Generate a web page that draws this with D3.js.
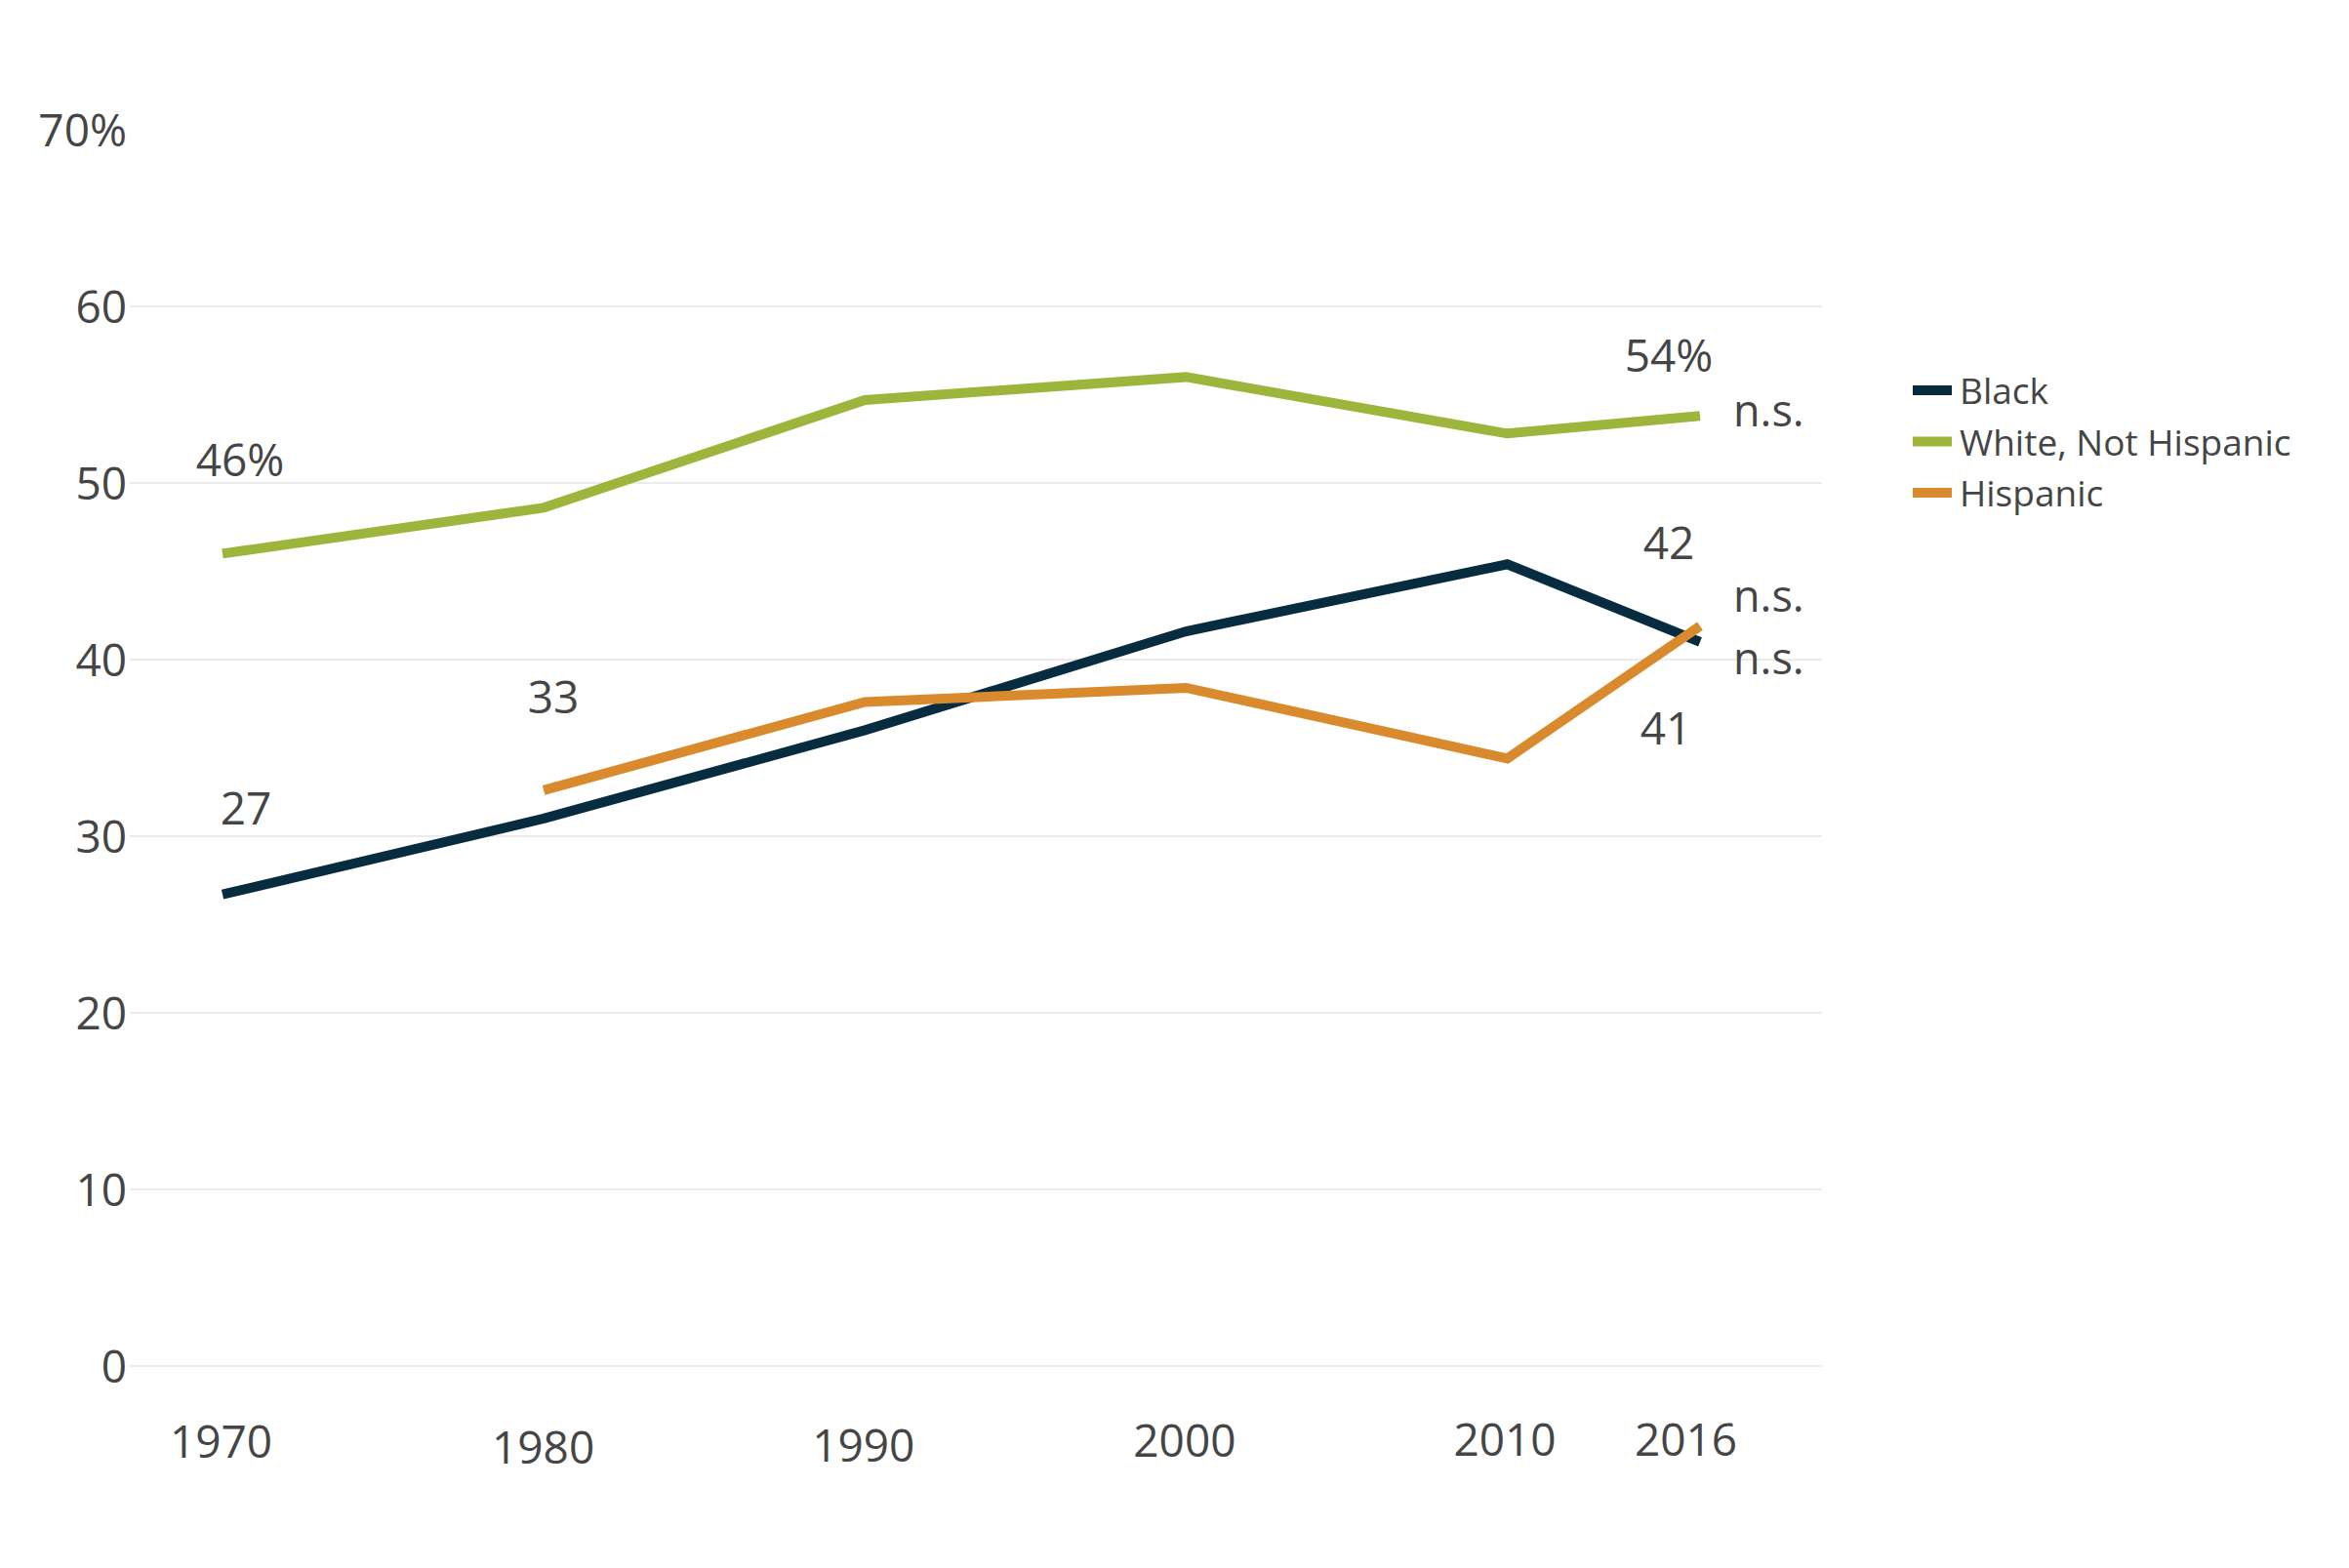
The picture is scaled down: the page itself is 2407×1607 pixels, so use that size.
<!DOCTYPE html>
<html>
<head>
<meta charset="utf-8">
<script src="https://cdn.jsdelivr.net/npm/d3@7/dist/d3.min.js"></script>
<style>
  html, body { margin: 0; padding: 0; background: #ffffff; }
  svg { display: block; font-family: "Open Sans", "Noto Sans", sans-serif; }
</style>
</head>
<body>
<svg id="chart" width="2407" height="1607"></svg>
<script>
// ---- data ----
const years = [1970, 1980, 1990, 2000, 2010, 2016];
const seriesNames = ["Black", "White, Not Hispanic", "Hispanic"];
const blackValues = [26.7, 31.0, 36.0, 41.6, 45.4, 41.0];
const whiteValues = [46.0, 48.6, 54.7, 56.0, 52.8, 53.8];
const hispanicValues = [null, 32.6, 37.6, 38.4, 34.4, 41.9];
const yTicks = [0, 10, 20, 30, 40, 50, 60, 70];
const gridTicks = [0, 10, 20, 30, 40, 50, 60];
// annotation text: [series index, year, text]
const valueLabels = [
  [1, 1970, "46%"], [0, 1970, "27"], [2, 1980, "33"],
  [1, 2016, "54%"], [2, 2016, "42"], [0, 2016, "41"]
];
const nsLabels = [[1, "n.s."], [2, "n.s."], [0, "n.s."]];

// ---- styles / layout ----
const colors = ["#072c40", "#9db53b", "#d98a2c"];
const textColor = "#454545";
const seriesValues = [blackValues, whiteValues, hispanicValues];

const svg = d3.select("#chart");
const x = d3.scaleLinear().domain([1970, 2016]).range([228, 1742]);
const y = d3.scaleLinear().domain([0, 70]).range([1400, 133]);

// gridlines
svg.append("g").selectAll("line").data(gridTicks).join("line")
  .attr("x1", 133).attr("x2", 1867)
  .attr("y1", d => y(d)).attr("y2", d => y(d))
  .attr("stroke", "#ebebeb").attr("stroke-width", 2);

// y axis
const yAxis = svg.append("g").attr("transform", "translate(133,0)")
  .call(d3.axisLeft(y).tickValues(yTicks).tickSize(0).tickPadding(3)
    .tickFormat(d => d === 70 ? "70%" : d));
yAxis.select(".domain").remove();
yAxis.selectAll("text").attr("font-size", 46).attr("fill", textColor)
  .attr("font-family", "'Open Sans', sans-serif").attr("dy", "0.35em");

// x axis
const xLabelShift = {1970: [-2, 0], 1980: [-1, 6], 1990: [-2, 4], 2000: [-2, -1], 2010: [-3, -2], 2016: [-15, -2]};
const xAxis = svg.append("g").attr("transform", "translate(0,1400)")
  .call(d3.axisBottom(x).tickValues(years).tickSize(0).tickPadding(61)
    .tickFormat(d3.format("d")));
xAxis.select(".domain").remove();
xAxis.selectAll("text").attr("font-size", 46).attr("fill", textColor)
  .attr("font-family", "'Open Sans', sans-serif")
  .attr("dx", d => xLabelShift[d][0]).attr("dy", d => (0.71 * 46 + xLabelShift[d][1]) + "px");

// lines
const line = d3.line()
  .defined(d => d[1] !== null)
  .x(d => x(d[0])).y(d => y(d[1]));
seriesValues.forEach((vals, i) => {
  const pts = years.map((yr, j) => [yr, vals[j]]);
  svg.append("path").datum(pts)
    .attr("d", line)
    .attr("fill", "none")
    .attr("stroke", colors[i])
    .attr("stroke-width", 10)
    .attr("stroke-linejoin", "miter");
});

// value labels (offsets relative to the data point: [dx, dy to baseline])
const labelOffsets = {
  "1-1970": [18, -79], "0-1970": [24, -72], "2-1980": [10, -79],
  "1-2016": [-32, -45], "2-2016": [-32, -69], "0-2016": [-35, 105]
};
svg.append("g").selectAll("text").data(valueLabels).join("text")
  .attr("x", d => x(d[1]) + labelOffsets[d[0] + "-" + d[1]][0])
  .attr("y", d => y(seriesValues[d[0]][years.indexOf(d[1])]) + labelOffsets[d[0] + "-" + d[1]][1])
  .attr("text-anchor", "middle")
  .attr("font-size", 46).attr("fill", textColor)
  .text(d => d[2]);

// n.s. labels
const nsOffsets = {1: 11, 2: -15, 0: 33};
svg.append("g").selectAll("text").data(nsLabels).join("text")
  .attr("x", x(2016) + 34)
  .attr("y", d => y(seriesValues[d[0]][years.length - 1]) + nsOffsets[d[0]])
  .attr("font-size", 45).attr("fill", textColor)
  .text(d => d[1]);

// legend
const legend = svg.append("g").attr("transform", "translate(1960,400)");
const lg = legend.selectAll("g").data(seriesNames).join("g")
  .attr("transform", (d, i) => `translate(0,${i * 52.5})`);
lg.append("rect").attr("x", 0).attr("y", -5).attr("width", 40).attr("height", 10)
  .attr("fill", (d, i) => colors[i]);
lg.append("text").attr("x", 48).attr("y", 14)
  .attr("font-size", 37).attr("fill", textColor)
  .text(d => d);
</script>
</body>
</html>
